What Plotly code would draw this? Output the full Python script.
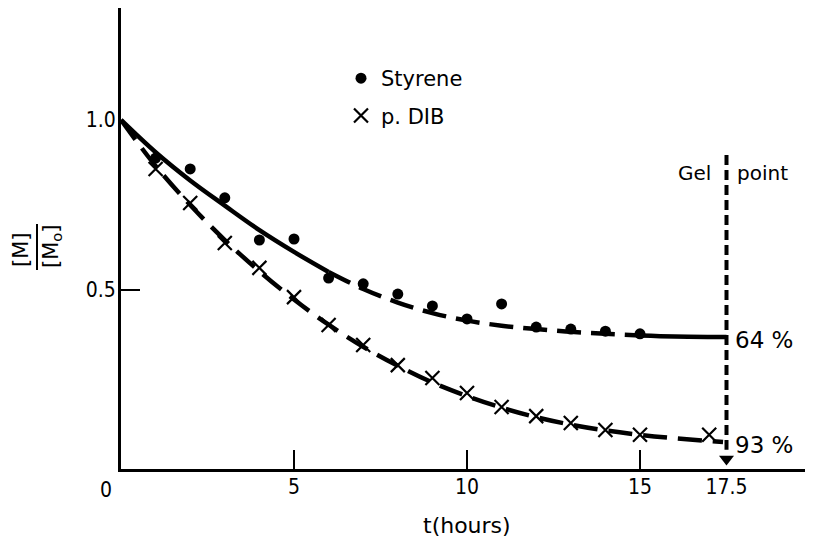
import plotly.graph_objects as go

# ---------------- data ----------------
hours = [1, 2, 3, 4, 5, 6, 7, 8, 9, 10, 11, 12, 13, 14, 15]
styrene = [0.888, 0.856, 0.771, 0.647, 0.650, 0.535, 0.518, 0.488, 0.453,
           0.415, 0.459, 0.391, 0.385, 0.379, 0.371]

hours_dib = [1, 2, 3, 4, 5, 6, 7, 8, 9, 10, 11, 12, 13, 14, 15, 17]
p_dib = [0.856, 0.756, 0.638, 0.565, 0.479, 0.397, 0.338, 0.279, 0.241,
         0.197, 0.156, 0.129, 0.109, 0.088, 0.074, 0.074]

# fitted (drawn) curves
fit_t_sty = [0, 1, 2, 3, 4, 5, 6, 7, 8, 9, 10, 11, 12, 13, 14, 15, 16, 17, 17.5]
fit_sty = [1.0, 0.905, 0.822, 0.748, 0.676, 0.612, 0.553, 0.503, 0.463, 0.432,
           0.41, 0.395, 0.385, 0.377, 0.371, 0.366, 0.363, 0.362, 0.362]

fit_t_dib = [0, 1, 2, 3, 4, 5, 6, 7, 8, 9, 10, 11, 12, 13, 14, 15, 16, 17, 17.4]
fit_dib = [1.0, 0.865, 0.75, 0.647, 0.555, 0.472, 0.398, 0.333, 0.277, 0.228,
           0.188, 0.154, 0.126, 0.104, 0.087, 0.074, 0.064, 0.056, 0.053]

gel_t = 17.5
gel_top = 0.897
gel_bottom = 0.03
arrow_y = 0.003

x_tick_vals = [5, 10, 15, 17.5]
x_tick_text = ["5", "10", "15", "17.5"]
x_minor_ticks = [5, 10, 15]
y_tick_vals = [0.5, 1.0]
y_tick_text = ["0.5", "1.0"]
y_minor_ticks = [0.5]

TICKFONT = "DejaVu Sans Condensed, DejaVu Sans, sans-serif"
TEXTFONT = "DejaVu Sans, sans-serif"

# page has an 8px body margin: figure is shifted by (8, 8)
W, H = 805, 540
ML, MT, MB = 113, 0, 79
PW, PH = W - ML, H - MT - MB  # 692 x 461

fig = go.Figure()

# styrene curve: solid start, dashed middle, solid end
fig.add_trace(go.Scatter(x=fit_t_sty[:7], y=fit_sty[:7], mode="lines", showlegend=False,
                         line=dict(color="black", width=4.5, shape="spline"),
                         hoverinfo="skip"))
fig.add_trace(go.Scatter(x=fit_t_sty[6:16], y=fit_sty[6:16], mode="lines", showlegend=False,
                         line=dict(color="black", width=4.5, shape="spline",
                                   dash="24px,10px"),
                         hoverinfo="skip"))
fig.add_trace(go.Scatter(x=fit_t_sty[15:], y=fit_sty[15:], mode="lines", showlegend=False,
                         line=dict(color="black", width=4.5, shape="spline"),
                         hoverinfo="skip"))
# p-DIB curve
fig.add_trace(go.Scatter(x=fit_t_dib, y=fit_dib, mode="lines", showlegend=False,
                         line=dict(color="black", width=4.5, shape="spline",
                                   dash="24px,11px"),
                         hoverinfo="skip"))

# gel point line + arrow
fig.add_trace(go.Scatter(x=[gel_t, gel_t], y=[gel_top, gel_bottom], mode="lines",
                         showlegend=False,
                         line=dict(color="black", width=4, dash="10px,5px"),
                         hoverinfo="skip"))
fig.add_trace(go.Scatter(x=[gel_t], y=[arrow_y], mode="markers", showlegend=False,
                         marker=dict(symbol="triangle-down", size=13, color="black"),
                         hoverinfo="skip"))

# data markers
fig.add_trace(go.Scatter(x=hours, y=styrene, mode="markers", name="Styrene",
                         legendgroup="a",
                         marker=dict(symbol="circle", size=11, color="black")))
fig.add_trace(go.Scatter(x=hours_dib, y=p_dib, mode="markers", name="p. DIB",
                         legendgroup="b",
                         marker=dict(symbol="x-thin", size=14, color="black",
                                     line=dict(color="black", width=2.2))))

annotations = [
    dict(x=0, y=0, xref="x", yref="paper", text="0", showarrow=False,
         xanchor="center", yanchor="top", xshift=-15, yshift=-7,
         font=dict(family=TICKFONT, size=21, color="black")),
    dict(x=0.5, y=0, xref="paper", yref="paper", text="t(hours)", showarrow=False,
         xanchor="center", yanchor="middle", yshift=-56,
         font=dict(family=TEXTFONT, size=22, color="black")),
    dict(x=gel_t, y=0.844, xref="x", yref="y", text="Gel", showarrow=False,
         xanchor="right", yanchor="middle", xshift=-14,
         font=dict(family=TEXTFONT, size=20, color="black")),
    dict(x=gel_t, y=0.844, xref="x", yref="y", text="point", showarrow=False,
         xanchor="left", yanchor="middle", xshift=8,
         font=dict(family=TEXTFONT, size=20, color="black")),
    dict(x=gel_t, y=0.353, xref="x", yref="y", text="64 %", showarrow=False,
         xanchor="left", yanchor="middle", xshift=6,
         font=dict(family=TEXTFONT, size=23, color="black")),
    dict(x=gel_t, y=0.044, xref="x", yref="y", text="93 %", showarrow=False,
         xanchor="left", yanchor="middle", xshift=6,
         font=dict(family=TEXTFONT, size=23, color="black")),
    dict(x=0, y=(PH - 242) / PH, xref="paper", yref="paper", text="[M]", showarrow=False,
         textangle=-90, xanchor="center", yanchor="middle", xshift=-100,
         font=dict(family=TEXTFONT, size=21, color="black")),
    dict(x=0, y=(PH - 238) / PH, xref="paper", yref="paper", text="[M<sub>o</sub>]",
         showarrow=False, textangle=-90, xanchor="center", yanchor="middle",
         xshift=-69, font=dict(family=TEXTFONT, size=21, color="black")),
]

shapes = [
    dict(type="line", xref="paper", yref="paper",
         x0=(29 - ML) / PW, x1=(29 - ML) / PW,
         y0=(PH - 216) / PH, y1=(PH - 262) / PH,
         line=dict(color="black", width=2)),
]

fig.update_layout(
    width=W, height=H,
    margin=dict(l=ML, r=0, t=MT, b=MB, pad=0),
    paper_bgcolor="white", plot_bgcolor="white",
    font=dict(family=TEXTFONT, color="black"),
    showlegend=True,
    legend=dict(x=(333 - ML) / PW, y=(PH - 50) / PH, xanchor="left", yanchor="top",
                bgcolor="rgba(0,0,0,0)", borderwidth=0, tracegroupgap=7,
                traceorder="grouped",
                font=dict(family=TEXTFONT, size=21, color="black")),
    xaxis=dict(range=[0, 20], showgrid=False, zeroline=False,
               showline=True, linecolor="black", linewidth=3,
               tickmode="array", tickvals=x_tick_vals, ticktext=x_tick_text,
               ticks="", ticklabelstandoff=-3,
               tickfont=dict(family=TICKFONT, size=21, color="black"),
               minor=dict(tickmode="array", tickvals=x_minor_ticks, ticks="inside",
                          ticklen=19, tickwidth=2, tickcolor="black", showgrid=False)),
    yaxis=dict(range=[-0.0265, 1.3294], showgrid=False, zeroline=False,
               showline=True, linecolor="black", linewidth=3,
               tickmode="array", tickvals=y_tick_vals, ticktext=y_tick_text,
               ticks="", ticklabelstandoff=-2,
               tickfont=dict(family=TICKFONT, size=21, color="black"),
               minor=dict(tickmode="array", tickvals=y_minor_ticks, ticks="inside",
                          ticklen=19, tickwidth=2, tickcolor="black", showgrid=False)),
    annotations=annotations,
    shapes=shapes,
)

fig.write_html("out.html")
